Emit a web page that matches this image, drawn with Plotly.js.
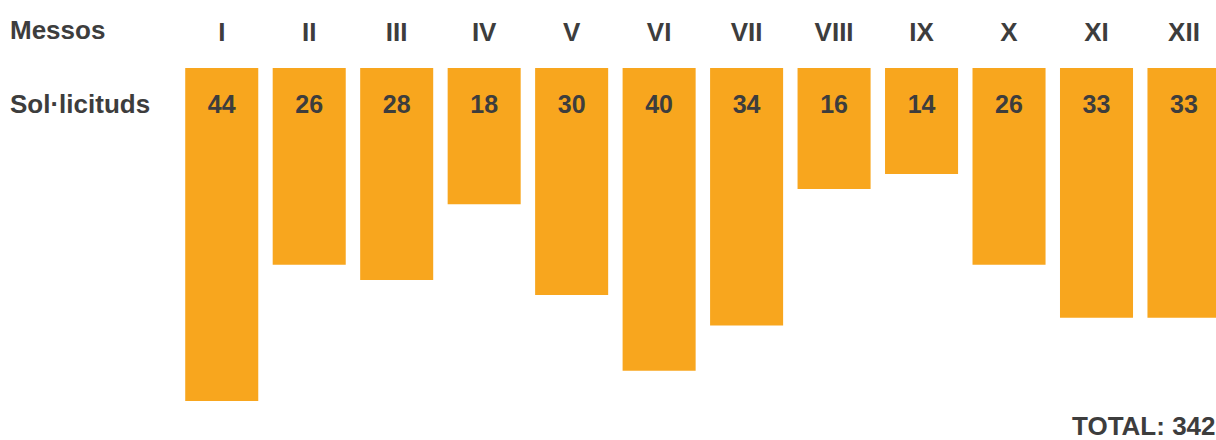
<!DOCTYPE html>
<html>
<head>
<meta charset="utf-8">
<script src="https://cdn.plot.ly/plotly-3.0.1.min.js"></script>
<style>html,body{margin:0;padding:0;background:#fff;overflow:hidden}</style>
</head>
<body>
<div id="chart" style="width:1216px;height:440px"></div>
<script>
var months = ["I","II","III","IV","V","VI","VII","VIII","IX","X","XI","XII"];
var requests = [44,26,28,18,30,40,34,16,14,26,33,33];
var rowHeader = "Messos";
var rowLabel = "Sol·licituds";
var totalLabel = "TOTAL: ";

var positions = months.map(function(m,i){return i;});
var total = requests.reduce(function(a,b){return a+b;},0);

var FONT = "Liberation Sans, Arial, Helvetica, sans-serif";
var TXT = "#3d3d3d";
var ORANGE = "#F8A61E";
var LABEL_ROW = 4.76;   // row of the "Sol·licituds" label (axis units)
var VALUE_ROW = 5.12;   // row of the value texts (axis units)

var bars = {
  type: "bar",
  x: positions,
  y: requests,
  width: 0.835,
  marker: {color: ORANGE, line: {width: 0}},
  hoverinfo: "skip",
  showlegend: false
};
var labels = {
  type: "scatter",
  mode: "text",
  x: positions,
  y: positions.map(function(){return VALUE_ROW;}),
  text: requests.map(String),
  textposition: "middle center",
  textfont: {family: FONT, size: 25, color: TXT, weight: "bold"},
  hoverinfo: "skip",
  showlegend: false,
  cliponaxis: false
};

var layout = {
  width: 1216, height: 440,
  margin: {l: 178, r: 0, t: 68, b: 0, pad: 0},
  paper_bgcolor: "#fff", plot_bgcolor: "#fff",
  font: {family: FONT, color: TXT},
  xaxis: {
    type: "linear",
    range: [-0.5, 11.366],
    side: "top",
    tickmode: "array",
    tickvals: positions,
    ticktext: months,
    tickfont: {family: FONT, size: 26, color: TXT, weight: "bold"},
    ticks: "",
    ticklabelstandoff: 21,
    showgrid: false, zeroline: false, showline: false,
    fixedrange: true
  },
  yaxis: {
    range: [49.14, 0],
    visible: false,
    showgrid: false, zeroline: false,
    fixedrange: true
  },
  annotations: [
    {xref: "paper", yref: "paper", x: -0.1634, y: 1, yshift: 38, xanchor: "left", yanchor: "middle",
     text: "<b>" + rowHeader + "</b>", showarrow: false, font: {family: FONT, size: 26, color: TXT}},
    {xref: "paper", yref: "y", x: -0.1634, y: LABEL_ROW, xanchor: "left", yanchor: "middle",
     text: "<b>" + rowLabel + "</b>", showarrow: false, font: {family: FONT, size: 26, color: TXT}},
    {xref: "paper", yref: "paper", x: 0.8598, y: 0, yshift: 14, xanchor: "left", yanchor: "middle",
     text: "<b>" + totalLabel + total + "</b>", showarrow: false, font: {family: FONT, size: 26, color: TXT}}
  ]
};

Plotly.newPlot("chart", [bars, labels], layout, {displayModeBar: false, staticPlot: true});
</script>
</body>
</html>
